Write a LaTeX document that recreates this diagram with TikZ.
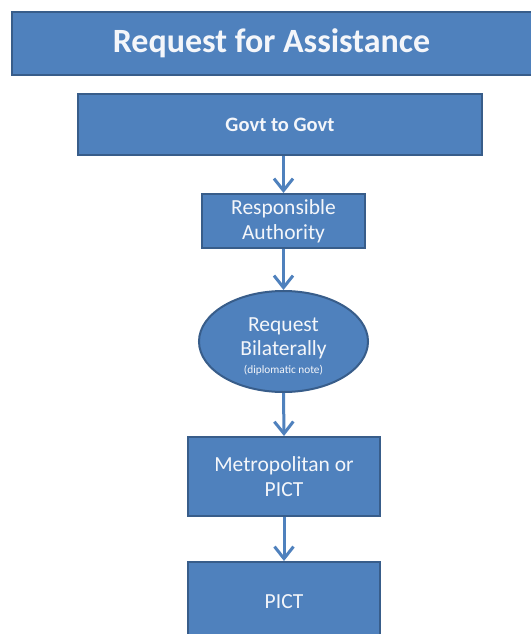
\documentclass[tikz,border=0pt]{standalone}
\usepackage{fontspec}
\setmainfont{Carlito}
\usetikzlibrary{arrows.meta,shapes.geometric}
\definecolor{fillblue}{HTML}{4F81BD}
\definecolor{edgeblue}{HTML}{385D8A}
\definecolor{txtwhite}{HTML}{F4F6FA}
\begin{document}
\begin{tikzpicture}[x=1pt,y=-1pt,
  box/.style={draw=edgeblue,fill=fillblue,line width=2pt,text=txtwhite,align=center,inner sep=0pt,
    font=\fontsize{21.5}{25}\selectfont},
  oval/.style={ellipse,draw=edgeblue,fill=fillblue,line width=2pt,inner sep=0pt},
  ovaltext/.style={text=txtwhite,align=center,inner sep=0pt,font=\fontsize{21.5}{24}\selectfont},
  flow/.style={draw=fillblue,line width=3pt,-{Straight Barb[length=12pt,width=19pt,line width=3pt]}}]
\useasboundingbox (0,0) rectangle (530,634);
\fill[white] (0,0) rectangle (530,634);
\node[box,minimum width=520pt,minimum height=62pt,font=\fontsize{34}{38}\selectfont\bfseries] (title) at (271.5,43.5) {Request for Assistance};
\node[box,minimum width=404pt,minimum height=61pt,font=\fontsize{20.5}{24}\selectfont\bfseries] (govt) at (280,124.5) {Govt to Govt};
\node[box,minimum width=163pt,minimum height=54pt] (ra) at (283.5,221) {Responsible\\Authority};
\node[oval,minimum width=169pt,minimum height=101pt] (bil) at (283.5,341.5) {};
\node[ovaltext] (biltext) at (283.5,347) {Request\\Bilaterally\\[-6pt]{\fontsize{11.3}{13}\selectfont(diplomatic note)}};
\node[box,minimum width=192pt,minimum height=79pt] (metro) at (284,476.5) {Metropolitan or\\PICT};
\node[box,minimum width=192pt,minimum height=80pt] (pict) at (284,602) {PICT};
\draw[flow] (govt.south -| ra.north) -- (ra.north);
\draw[flow] (ra.south) -- (bil.north);
\draw[flow] (bil.south) -- (metro.north);
\draw[flow] (metro.south) -- (pict.north);
\end{tikzpicture}
\end{document}
